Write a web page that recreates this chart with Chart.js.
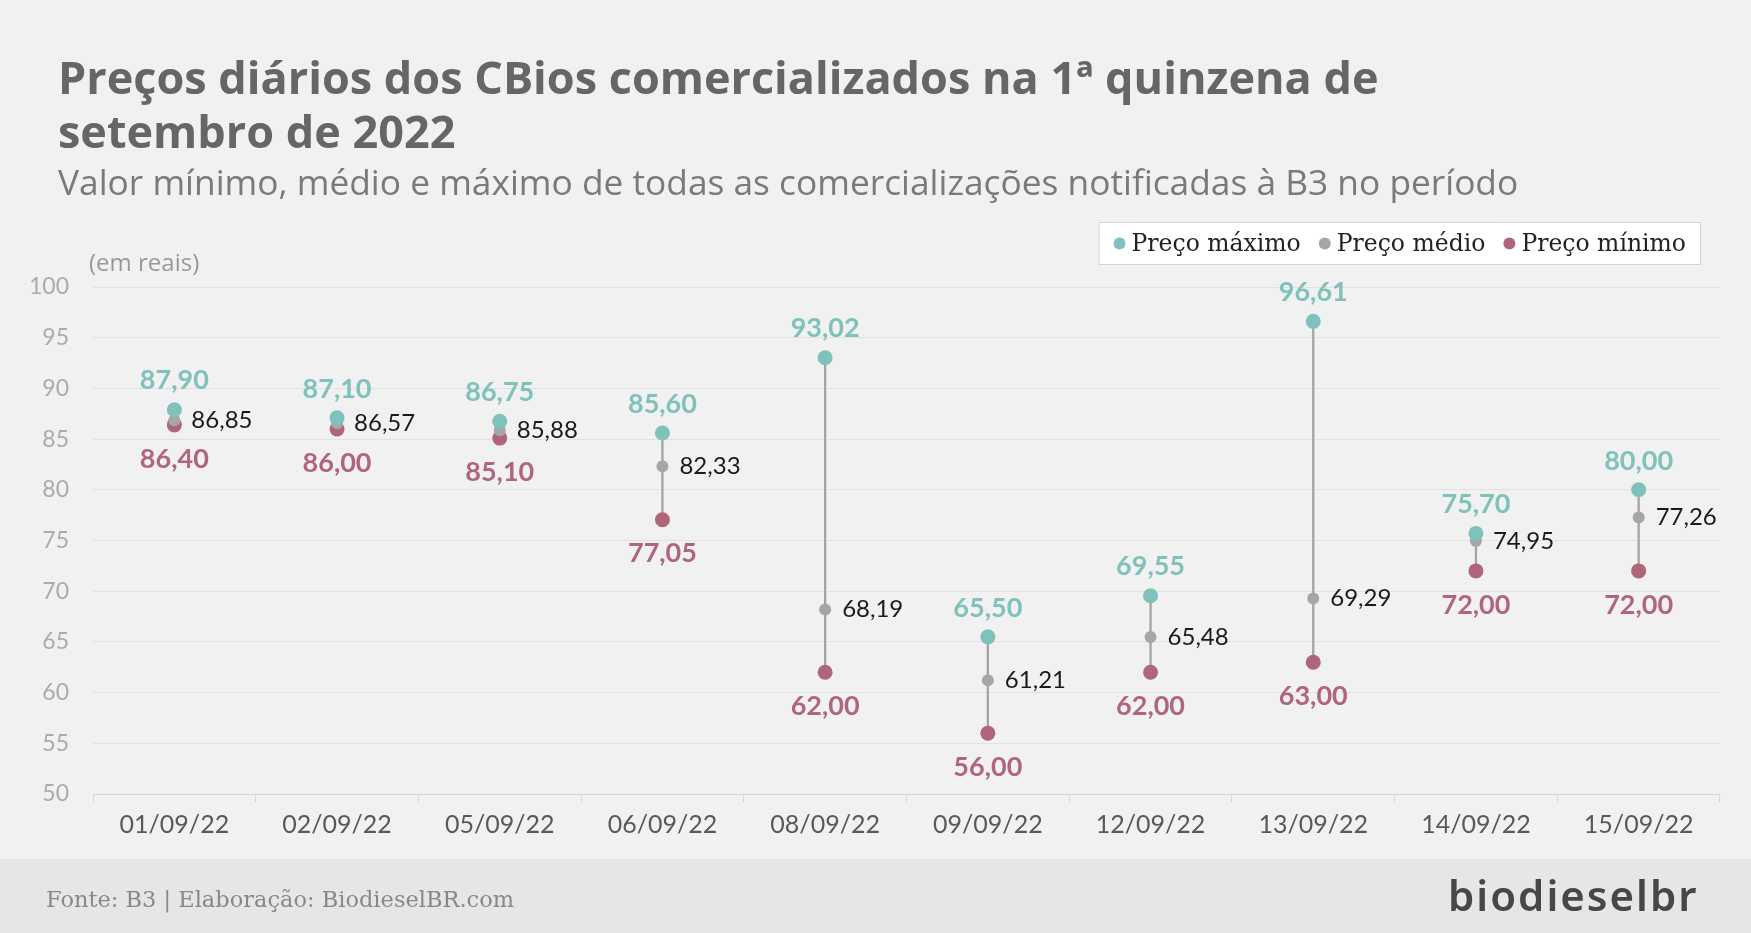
<!DOCTYPE html>
<html lang="pt-BR">
<head>
<meta charset="utf-8">
<title>Preços diários dos CBios</title>
<script src="https://cdn.jsdelivr.net/npm/chart.js@4.4.0/dist/chart.umd.min.js"></script>
<style>
  html, body { margin: 0; padding: 0; background: #f1f1f1; }
  #page { position: relative; width: 1751px; height: 933px; overflow: hidden; background: #f1f1f1; font-family: Lato, sans-serif; }
  #footer { position: absolute; left: 0; top: 859px; width: 1751px; height: 74px; background: #e6e6e6; }
  #chartBox { position: absolute; left: 0; top: 0; width: 1751px; height: 933px; }
  .txt { position: absolute; white-space: nowrap; }
  #title { left: 58px; top: 50px; font-family: "Open Sans", sans-serif; font-size: 45px; line-height: 54px; font-weight: bold; color: #666; }
  #subtitle { left: 58px; top: 164px; font-family: "Open Sans", sans-serif; font-size: 35.3px; line-height: 1; color: #7a7a7a; }
  #unit { left: 89px; top: 250px; font-family: "Open Sans", sans-serif; font-size: 24px; line-height: 1; color: #999; }
  #source { left: 46px; top: 888px; font-family: "DejaVu Serif", serif; font-size: 22.5px; line-height: 1; color: #888; }
  #logo { left: 1448px; top: 874px; font-family: "Noto Sans", sans-serif; font-size: 42px; line-height: 1; font-weight: 600; letter-spacing: 2px; color: #474747; }
</style>
</head>
<body>
<div id="page">
  <div id="footer"></div>
  <div id="chartBox"><canvas id="cbios_chart"></canvas></div>
  <div class="txt" id="title">Preços diários dos CBios comercializados na 1ª quinzena de<br>setembro de 2022</div>
  <div class="txt" id="subtitle">Valor mínimo, médio e máximo de todas as comercializações notificadas à B3 no período</div>
  <div class="txt" id="unit">(em reais)</div>
  <div class="txt" id="source">Fonte: B3 | Elaboração: BiodieselBR.com</div>
  <div class="txt" id="logo">biodieselbr</div>
</div>
<script>
var days = ["01/09/22", "02/09/22", "05/09/22", "06/09/22", "08/09/22",
            "09/09/22", "12/09/22", "13/09/22", "14/09/22", "15/09/22"];
var precoMaximo = [87.90, 87.10, 86.75, 85.60, 93.02, 65.50, 69.55, 96.61, 75.70, 80.00];
var precoMedio  = [86.85, 86.57, 85.88, 82.33, 68.19, 61.21, 65.48, 69.29, 74.95, 77.26];
var precoMinimo = [86.40, 86.00, 85.10, 77.05, 62.00, 56.00, 62.00, 63.00, 72.00, 72.00];
var yTicks = [50, 55, 60, 65, 70, 75, 80, 85, 90, 95, 100];

var corMax = "#7fc1bb";
var corMed = "#a6a6a6";
var corMin = "#b0667a";

// gray stem from min to max
var faixa = [];
for (var i = 0; i < days.length; i++) {
  faixa.push([precoMinimo[i], precoMaximo[i]]);
}

function fmt(v) {
  return v.toFixed(2).replace(".", ",");
}

// value labels next to the points
var valueLabels = {
  id: "valueLabels",
  afterDatasetsDraw: function (chart) {
    var ctx = chart.ctx;
    ctx.save();
    chart.data.datasets.forEach(function (ds, di) {
      if (!ds.labelPos) return;
      var meta = chart.getDatasetMeta(di);
      meta.data.forEach(function (pt, j) {
        var v = ds.data[j];
        if (ds.labelPos === "top") {
          ctx.font = "bold 27px Lato";
          ctx.fillStyle = ds.backgroundColor;
          ctx.textAlign = "center";
          ctx.textBaseline = "middle";
          ctx.fillText(fmt(v), pt.x, pt.y - 29);
        } else if (ds.labelPos === "bottom") {
          ctx.font = "bold 27px Lato";
          ctx.fillStyle = ds.backgroundColor;
          ctx.textAlign = "center";
          ctx.textBaseline = "middle";
          ctx.fillText(fmt(v), pt.x, pt.y + 34);
        } else {
          ctx.font = "24px Lato";
          ctx.fillStyle = "#1a1a1a";
          ctx.textAlign = "left";
          ctx.textBaseline = "middle";
          ctx.fillText(fmt(v), pt.x + 17, pt.y);
        }
      });
    });
    ctx.restore();
  }
};

// boxed legend top right
var legendBox = {
  id: "legendBox",
  afterDraw: function (chart) {
    var ctx = chart.ctx;
    var items = chart.data.datasets.filter(function (d) { return d.inLegend; });
    ctx.save();
    ctx.font = "23.5px 'DejaVu Serif'";
    var r = 6, dotGap = 6, itemGap = 18, padX = 15;
    var widths = items.map(function (d) { return ctx.measureText(d.label).width; });
    var total = padX * 2;
    widths.forEach(function (w, k) { total += r * 2 + dotGap + w + (k ? itemGap : 0); });
    var right = 1701, top = 222, h = 43;
    var left = right - total;
    ctx.fillStyle = "#ffffff";
    ctx.fillRect(left, top, total, h);
    ctx.strokeStyle = "#d4d4d4";
    ctx.lineWidth = 1;
    ctx.strokeRect(left + 0.5, top + 0.5, total - 1, h - 1);
    var x = left + padX, cy = top + h / 2;
    items.forEach(function (d, k) {
      ctx.fillStyle = d.backgroundColor;
      ctx.beginPath();
      ctx.arc(x + r, cy, r, 0, Math.PI * 2);
      ctx.fill();
      ctx.fillStyle = "#222";
      ctx.textAlign = "left";
      ctx.textBaseline = "middle";
      ctx.fillText(d.label, x + r * 2 + dotGap, cy + 1);
      x += r * 2 + dotGap + widths[k] + itemGap;
    });
    ctx.restore();
  }
};

var config = {
  data: {
    labels: days,
    datasets: [
      {
        type: "line",
        label: "Preço máximo",
        data: precoMaximo,
        showLine: false,
        backgroundColor: corMax,
        borderColor: corMax,
        pointRadius: 7.5,
        pointHoverRadius: 7.5,
        pointBorderWidth: 0,
        labelPos: "top",
        inLegend: true,
      },
      {
        type: "line",
        label: "Preço médio",
        data: precoMedio,
        showLine: false,
        backgroundColor: corMed,
        borderColor: corMed,
        pointRadius: 6,
        pointHoverRadius: 6,
        pointBorderWidth: 0,
        labelPos: "right",
        inLegend: true,
      },
      {
        type: "line",
        label: "Preço mínimo",
        data: precoMinimo,
        showLine: false,
        backgroundColor: corMin,
        borderColor: corMin,
        pointRadius: 7.5,
        pointHoverRadius: 7.5,
        pointBorderWidth: 0,
        labelPos: "bottom",
        inLegend: true,
      },
      {
        type: "bar",
        label: "faixa",
        data: faixa,
        backgroundColor: "#a3a3a3",
        barThickness: 1.6,
      },
    ],
  },
  options: {
    responsive: true,
    maintainAspectRatio: false,
    animation: false,
    layout: { padding: { left: 0, right: 31, top: 287, bottom: 75 } },
    plugins: {
      legend: { display: false },
      tooltip: { enabled: false },
    },
    scales: {
      x: {
        grid: { display: true, drawOnChartArea: false, drawTicks: true, tickLength: 8, color: "#d6d6d6" },
        border: { display: true, color: "#d6d6d6", width: 1 },
        ticks: { color: "#595959", font: { family: "Lato", size: 25 }, padding: 8, maxRotation: 0 },
        afterFit: function (s) { s.height = 64; },
      },
      y: {
        min: 50,
        max: 100,
        afterBuildTicks: function (s) {
          s.ticks = yTicks.map(function (v) { return { value: v }; });
        },
        grid: { color: "#e2e2e2", drawTicks: false, lineWidth: 1 },
        border: { display: false },
        ticks: { color: "#ababab", font: { family: "Lato", size: 23 }, padding: 24 },
        afterFit: function (s) { s.width = 93; },
      },
    },
  },
  plugins: [valueLabels, legendBox],
};

var cbios_chart = new Chart(document.getElementById("cbios_chart"), config);
</script>
</body>
</html>
